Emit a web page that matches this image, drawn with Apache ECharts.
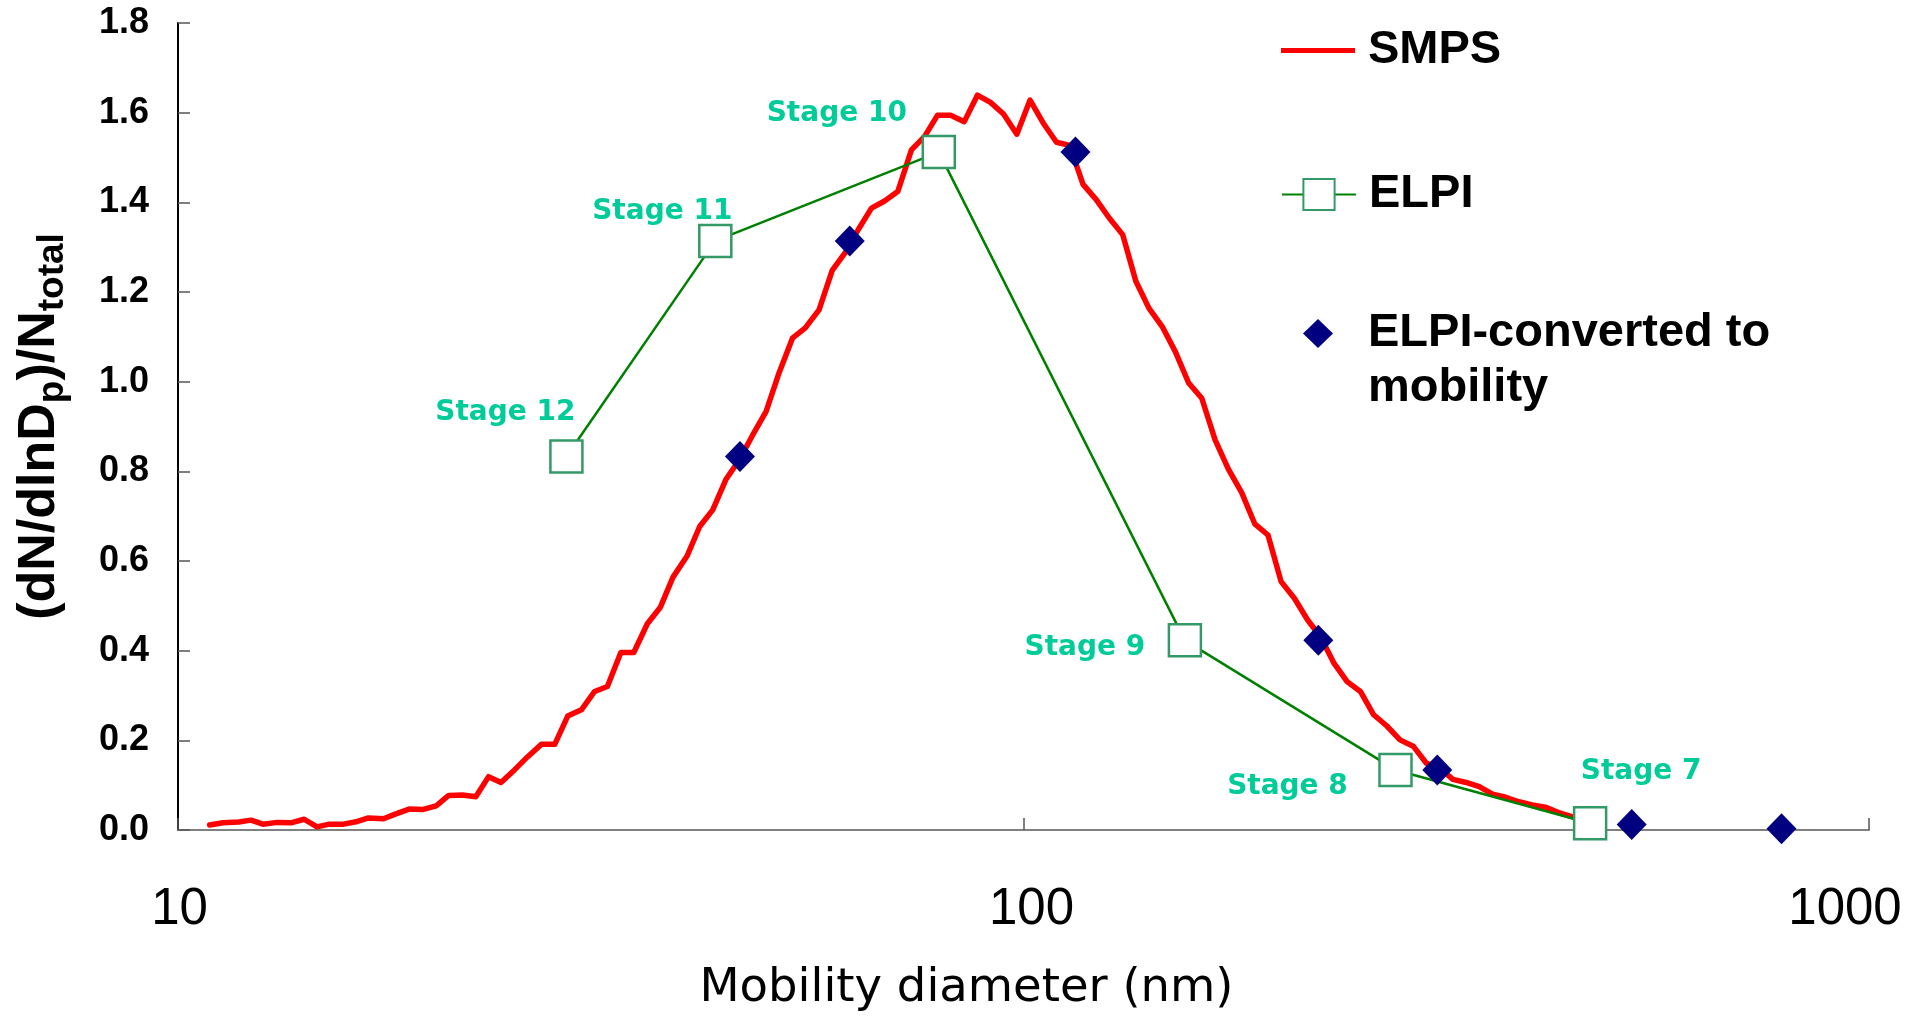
<!DOCTYPE html>
<html>
<head>
<meta charset="utf-8">
<title>Particle size distribution: SMPS vs ELPI</title>
<script src="https://cdn.jsdelivr.net/npm/echarts@6/dist/echarts.min.js"></script>
<style>
  html, body { margin: 0; padding: 0; background: #ffffff; }
  #chart { width: 1928px; height: 1019px; }
</style>
</head>
<body>
<div id="chart"></div>
<script>
// SMPS channel mid-point diameters (nm) and normalised concentration
const smpsDiameter = [
  10.9, 11.3, 11.8, 12.2, 12.6, 13.1, 13.6, 14.1, 14.6, 15.1,
  15.7, 16.3, 16.8, 17.5, 18.1, 18.8, 19.5, 20.2, 20.9, 21.7,
  22.5, 23.3, 24.1, 25.0, 25.9, 26.9, 27.9, 28.9, 30.0, 31.1,
  32.2, 33.4, 34.6, 35.9, 37.2, 38.5, 40.0, 41.4, 42.9, 44.5,
  46.1, 47.8, 49.6, 51.4, 53.3, 55.2, 57.3, 59.4, 61.5, 63.8,
  66.1, 68.5, 71.0, 73.7, 76.4, 79.1, 82.0, 85.1, 88.2, 91.4,
  94.7, 98.2, 101.8, 105.5, 109.4, 113.4, 117.6, 121.9, 126.3, 131.0,
  135.8, 140.7, 145.9, 151.2, 156.8, 162.5, 168.5, 174.7, 181.1, 187.7,
  194.6, 201.7, 209.1, 216.7, 224.7, 232.9, 241.4, 250.3, 259.5, 269.0,
  278.8, 289.0, 299.6, 310.6, 322.0, 333.8, 346.0, 358.7, 371.8, 385.4,
  399.5, 414.2, 429.4, 445.1, 461.4
];
const smpsValue = [
  0.011, 0.016, 0.018, 0.022, 0.013, 0.017, 0.016, 0.024, 0.007, 0.013,
  0.013, 0.019, 0.027, 0.025, 0.036, 0.047, 0.046, 0.054, 0.077, 0.078,
  0.074, 0.119, 0.106, 0.134, 0.163, 0.191, 0.191, 0.254, 0.268, 0.309,
  0.320, 0.396, 0.396, 0.460, 0.497, 0.564, 0.611, 0.677, 0.714, 0.783,
  0.825, 0.880, 0.933, 1.020, 1.097, 1.120, 1.160, 1.248, 1.287, 1.340,
  1.387, 1.403, 1.424, 1.517, 1.547, 1.594, 1.594, 1.580, 1.639, 1.623,
  1.597, 1.552, 1.628, 1.577, 1.534, 1.527, 1.440, 1.406, 1.365, 1.328,
  1.224, 1.164, 1.123, 1.067, 0.997, 0.963, 0.870, 0.805, 0.753, 0.683,
  0.658, 0.554, 0.517, 0.469, 0.430, 0.372, 0.331, 0.309, 0.257, 0.232,
  0.201, 0.187, 0.149, 0.138, 0.113, 0.106, 0.097, 0.080, 0.073, 0.063,
  0.056, 0.051, 0.039, 0.030, 0.022
];

// ELPI impactor stages (aerodynamic diameter, nm)
const stageNames = ['Stage 12', 'Stage 11', 'Stage 10', 'Stage 9', 'Stage 8', 'Stage 7'];
const elpiDiameter = [28.8, 43.2, 79.4, 155.2, 275.4, 467.9];
const elpiValue = [0.833, 1.314, 1.512, 0.423, 0.134, 0.015];

// ELPI stages re-expressed as mobility diameter (nm)
const convertedDiameter = [46.2, 62.3, 115.2, 223.2, 308.6, 524, 788];
const convertedValue = [0.833, 1.314, 1.512, 0.423, 0.134, 0.012, 0.003];

// Where each stage caption sits relative to its marker (px)
const stageLabelOffset = {
  'Stage 12': [-61, -44],
  'Stage 11': [-53, -29],
  'Stage 10': [-102, -38],
  'Stage 9': [-100, 7.5],
  'Stage 8': [-108, 16.5],
  'Stage 7': [51, -51.5]
};

const legendText = {
  fontFamily: 'Liberation Sans',
  fontWeight: 'bold',
  fontSize: 47,
  lineHeight: 55,
  color: '#000000'
};

const chart = echarts.init(document.getElementById('chart'), null, { renderer: 'canvas' });

const option = {
  animation: false,
  backgroundColor: '#ffffff',
  grid: { left: 178, right: 59, top: 23, bottom: 189, containLabel: false, outerBoundsMode: 'none' },
  legend: [
    {
      data: [{ name: 'SMPS', icon: 'rect' }],
      left: 1281, top: 23, padding: 0,
      itemWidth: 74, itemHeight: 5,
      selectedMode: false,
      textStyle: Object.assign({}, legendText, { padding: [0, 0, 0, 8] })
    },
    {
      data: ['ELPI'],
      left: 1281, top: 167, padding: 0,
      itemWidth: 74, itemHeight: 39,
      selectedMode: false,
      textStyle: Object.assign({}, legendText, { padding: [0, 0, 0, 8] })
    },
    {
      data: ['ELPI-converted to mobility'],
      left: 1303, top: 251, padding: 0,
      itemWidth: 30, itemHeight: 29,
      selectedMode: false,
      // blank first line keeps "ELPI-converted to" level with the marker
      formatter: () => '\nELPI-converted to\nmobility',
      textStyle: Object.assign({}, legendText, { padding: [0, 0, 0, 30] })
    }
  ],
  xAxis: {
    type: 'log',
    logBase: 10,
    min: 10,
    max: 1000,
    name: 'Mobility diameter (nm)',
    nameLocation: 'middle',
    nameGap: 131,
    nameTextStyle: {
      fontFamily: 'DejaVu Sans', fontSize: 46.5, color: '#000000',
      lineHeight: 56, padding: [0, 114, 0, 0]
    },
    axisLine: { show: true, onZero: false, lineStyle: { color: '#808080', width: 2 } },
    axisTick: { show: true, inside: true, length: 12, lineStyle: { color: '#555555', width: 1.5 } },
    minorTick: { show: false },
    splitLine: { show: false },
    axisLabel: {
      margin: 50,
      formatter: (v) => {
        if (v >= 1000) return '{r|' + v + '}';
        if (v >= 100) return '{m|' + v + '}';
        return '{l|' + v + '}';
      },
      rich: {
        l: { fontFamily: 'Liberation Sans', fontSize: 51, lineHeight: 60, color: '#000000', padding: [0, 0, 0, 3] },
        m: { fontFamily: 'Liberation Sans', fontSize: 51, lineHeight: 60, color: '#000000', padding: [0, 0, 0, 16] },
        r: { fontFamily: 'Liberation Sans', fontSize: 51, lineHeight: 60, color: '#000000', padding: [0, 48, 0, 0] }
      }
    }
  },
  yAxis: {
    type: 'value',
    min: 0,
    max: 1.8,
    interval: 0.2,
    name: '{a|(dN/dlnD}{b|p}{a|)/N}{b|total}',
    nameLocation: 'middle',
    nameGap: 107,
    nameTextStyle: {
      rich: {
        a: { fontFamily: 'Liberation Sans', fontWeight: 'bold', fontSize: 52, lineHeight: 62, color: '#000000' },
        b: { fontFamily: 'Liberation Sans', fontWeight: 'bold', fontSize: 37, lineHeight: 33, color: '#000000', verticalAlign: 'bottom' }
      }
    },
    axisLine: { show: true, lineStyle: { color: '#000000', width: 2 } },
    axisTick: { show: true, inside: true, length: 12, lineStyle: { color: '#555555', width: 1.5 } },
    splitLine: { show: false },
    axisLabel: {
      margin: 29,
      formatter: (v) => v.toFixed(1),
      fontFamily: 'Liberation Sans',
      fontWeight: 'bold',
      fontSize: 36,
      color: '#000000'
    }
  },
  series: [
    {
      name: 'SMPS',
      type: 'line',
      data: smpsDiameter.map((d, i) => [d, smpsValue[i]]),
      symbol: 'none',
      lineStyle: { color: '#ff0000', width: 5.5, cap: 'round', join: 'round' },
      itemStyle: { color: '#ff0000' },
      z: 2
    },
    {
      name: 'ELPI',
      type: 'line',
      data: elpiDiameter.map((d, i) => ({
        name: stageNames[i],
        value: [d, elpiValue[i]],
        label: { offset: stageLabelOffset[stageNames[i]] }
      })),
      symbol: 'rect',
      symbolSize: 32,
      showAllSymbol: true,
      lineStyle: { color: '#008000', width: 2.5 },
      itemStyle: { color: '#ffffff', borderColor: '#339966', borderWidth: 2.5 },
      label: {
        show: true,
        position: 'inside',
        formatter: (p) => p.name,
        color: '#00cc99',
        fontFamily: 'DejaVu Sans',
        fontWeight: 'bold',
        fontSize: 28
      },
      z: 3
    },
    {
      name: 'ELPI-converted to mobility',
      type: 'scatter',
      data: convertedDiameter.map((d, i) => [d, convertedValue[i]]),
      symbol: 'diamond',
      symbolSize: [30, 31],
      itemStyle: { color: '#000080', opacity: 1 },
      z: 4
    }
  ]
};

chart.setOption(option);
</script>
</body>
</html>
